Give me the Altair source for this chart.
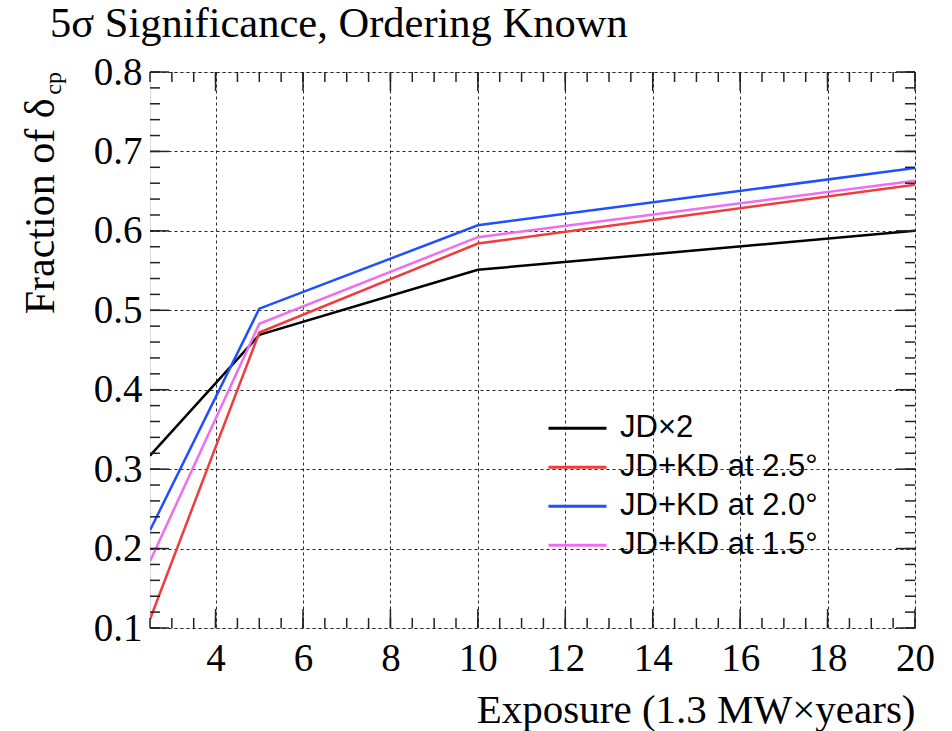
import altair as alt
import pandas as pd
import numpy as np

# ---- data ----
exposure = [2.5, 5, 10, 20]
jd_x2 = [0.317, 0.469, 0.551, 0.600]
kd_25 = [0.111, 0.472, 0.584, 0.658]
kd_20 = [0.223, 0.502, 0.607, 0.679]
kd_15 = [0.184, 0.483, 0.592, 0.663]

series_names = ["JD×2", "JD+KD at 2.5°", "JD+KD at 2.0°", "JD+KD at 1.5°"]
series_values = [jd_x2, kd_25, kd_20, kd_15]
colors = ["#000000", "#f03c3c", "#1f4fff", "#ee6eee"]

x_major = [4, 6, 8, 10, 12, 14, 16, 18, 20]
y_major = [0.1, 0.2, 0.3, 0.4, 0.5, 0.6, 0.7, 0.8]
x_minor = [round(v, 2) for v in np.arange(2.5, 20.001, 0.5)]
y_minor = [round(v, 3) for v in np.arange(0.1, 0.8001, 0.02)]

title_text = ["5σ Significance, Ordering Known"]
subscript_text = ["cp"]

rows = []
for name, vals in zip(series_names, series_values):
    for xv, yv in zip(exposure, vals):
        rows.append({"series": name, "exposure": xv, "value": yv})
df = pd.DataFrame(rows)

W, H = 765, 556
SERIF = "Liberation Serif"

x_scale = alt.Scale(domain=[2.5, 20], nice=False, zero=False)
y_scale = alt.Scale(domain=[0.1, 0.8], nice=False, zero=False)

x_axis = alt.Axis(
    values=x_major, format="d", grid=True, gridDash=[3, 3], gridColor="#000000",
    gridOpacity=0.85, gridWidth=1, ticks=False, tickSize=0, domain=False,
    labelFont=SERIF, labelFontSize=39, labelColor="black", labelPadding=11,
    labelFlush=False, labelOverlap=False,
    title="Exposure (1.3 MW×years)", titleFont=SERIF, titleFontSize=41,
    titleFontWeight="normal", titleColor="black", titleAlign="right",
    titleBaseline="alphabetic", titleX=W, titleY=94,
)
y_axis = alt.Axis(
    values=y_major, format=".1f", grid=True, gridDash=[3, 3], gridColor="#000000",
    gridOpacity=0.85, gridWidth=1, ticks=False, tickSize=0, domain=False,
    labelFont=SERIF, labelFontSize=39, labelColor="black", labelPadding=8,
    labelFlush=False, labelOverlap=False,
    title="Fraction of δ", titleFont=SERIF, titleFontSize=42,
    titleFontWeight="normal", titleColor="black", titleAngle=270,
    titleAlign="right", titleBaseline="alphabetic", titleX=-97, titleY=26,
)

lines = alt.Chart(df).mark_line(strokeWidth=2.5, clip=True).encode(
    x=alt.X("exposure:Q", scale=x_scale, axis=x_axis),
    y=alt.Y("value:Q", scale=y_scale, axis=y_axis),
    color=alt.Color(
        "series:N",
        scale=alt.Scale(domain=series_names, range=colors),
        legend=alt.Legend(
            title=None, orient="none", legendX=397, legendY=337,
            symbolType="stroke", symbolSize=3364, symbolStrokeWidth=3,
            labelFont="Liberation Sans", labelFontSize=31, labelColor="black",
            labelOffset=12, labelLimit=400, clipHeight=38.3, rowPadding=0,
            padding=0,
        ),
    ),
)

TICK = "#222222"


def xticks(vals, length):
    d = pd.DataFrame({"exposure": vals})
    bottom = alt.Chart(d).mark_rule(color=TICK, strokeWidth=1.5).encode(
        x=alt.X("exposure:Q", scale=x_scale), y=alt.value(H), y2=alt.value(H - length))
    top = alt.Chart(d).mark_rule(color=TICK, strokeWidth=1.5).encode(
        x=alt.X("exposure:Q", scale=x_scale), y=alt.value(0), y2=alt.value(length))
    return [bottom, top]


def yticks(vals, length):
    d = pd.DataFrame({"value": vals})
    left = alt.Chart(d).mark_rule(color=TICK, strokeWidth=1.5).encode(
        y=alt.Y("value:Q", scale=y_scale), x=alt.value(0), x2=alt.value(length))
    right = alt.Chart(d).mark_rule(color=TICK, strokeWidth=1.5).encode(
        y=alt.Y("value:Q", scale=y_scale), x=alt.value(W), x2=alt.value(W - length))
    return [left, right]


tick_layers = (xticks(x_minor, 10) + xticks(x_major, 19)
               + yticks(y_minor, 10) + yticks(y_major, 19))

sub = alt.Chart(pd.DataFrame({"t": subscript_text})).mark_text(
    angle=270, align="right", baseline="alphabetic", font=SERIF,
    fontSize=24, color="black",
).encode(text="t:N", x=alt.value(-89), y=alt.value(0))

title = alt.Chart(pd.DataFrame({"t": title_text})).mark_text(
    align="left", baseline="alphabetic", font=SERIF, fontSize=42.5, color="black",
).encode(text="t:N", x=alt.value(-100), y=alt.value(-35))

chart = alt.layer(lines, *tick_layers, sub, title).properties(
    width=W, height=H,
    padding={"left": 150, "top": 72, "right": 37, "bottom": 103},
    autosize="none",
).configure_view(stroke="black", strokeWidth=1.5).configure(background="white")

chart.save("out.html", embed_options={"renderer": "svg", "actions": False})
